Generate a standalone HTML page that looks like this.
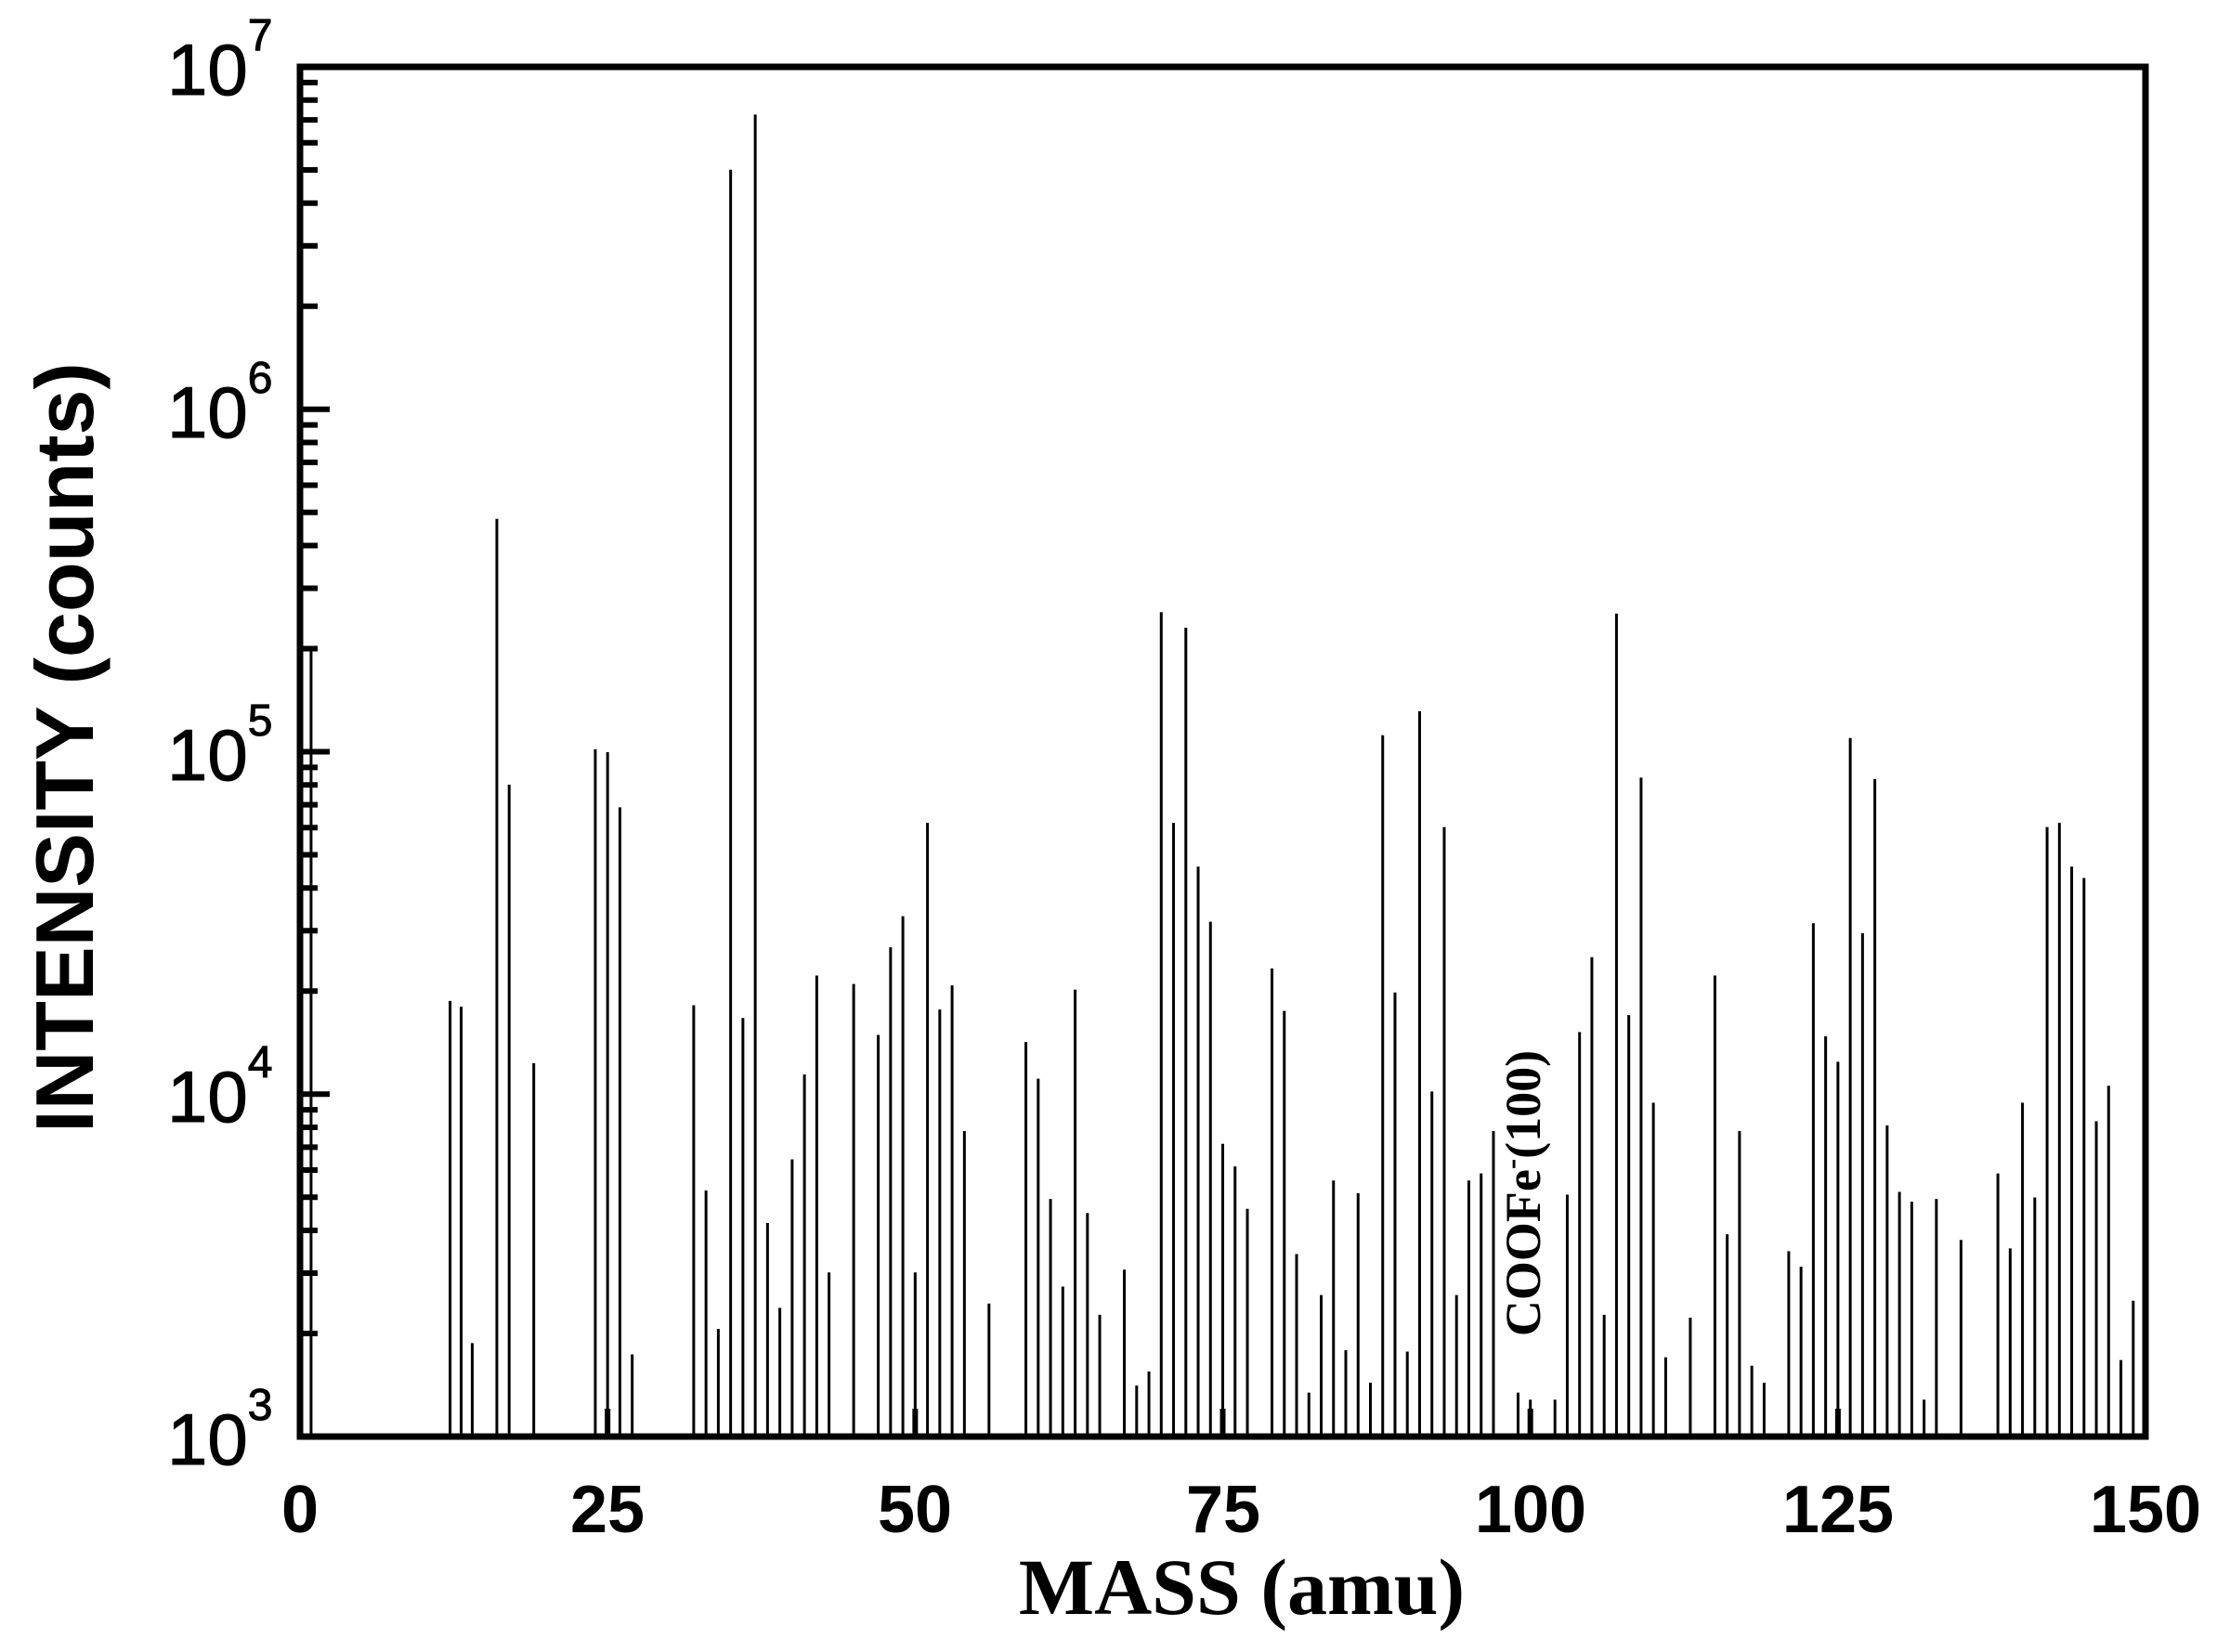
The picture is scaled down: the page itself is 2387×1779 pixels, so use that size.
<!DOCTYPE html>
<html><head><meta charset="utf-8"><style>
html,body{margin:0;padding:0;background:#fff;}
svg{display:block;}
</style></head><body>
<svg id="s" xmlns="http://www.w3.org/2000/svg" width="2387" height="1779" viewBox="0 0 2387 1779">
<rect width="2387" height="1779" fill="#fff"/>
<g id="peaks" stroke="#000" stroke-width="3"></g>
<rect x="323" y="72" width="1987" height="1475" fill="none" stroke="#000" stroke-width="7"/>
<g id="ticks" stroke="#000" stroke-width="6"></g>
<g font-family="Liberation Sans, Arial, sans-serif" font-size="78" fill="#000" stroke="#000" stroke-width="1">
<text x="180" y="102">10<tspan font-size="48" dy="-48">7</tspan></text>
<text x="180" y="471">10<tspan font-size="48" dy="-48">6</tspan></text>
<text x="180" y="840">10<tspan font-size="48" dy="-48">5</tspan></text>
<text x="180" y="1208">10<tspan font-size="48" dy="-48">4</tspan></text>
<text x="180" y="1577">10<tspan font-size="48" dy="-48">3</tspan></text>
</g>
<g font-family="Liberation Sans, Arial, sans-serif" font-size="72" font-weight="bold" fill="#000" text-anchor="middle">
<text x="323" y="1650">0</text>
<text x="654" y="1650">25</text>
<text x="985" y="1650">50</text>
<text x="1317" y="1650">75</text>
<text x="1648" y="1650">100</text>
<text x="1979" y="1650">125</text>
<text x="2310" y="1650">150</text>
</g>
<text x="1337" y="1738" text-anchor="middle" font-family="Liberation Serif, serif" font-weight="bold" font-size="86">MASS (amu)</text>
<text transform="translate(100,805) rotate(-90)" text-anchor="middle" font-family="Liberation Sans, Arial, sans-serif" font-weight="bold" font-size="88">INTENSITY (counts)</text>
<text transform="translate(1658,1285) rotate(-90)" text-anchor="middle" font-family="Liberation Serif, serif" font-weight="bold" font-size="54">COOFe<tspan dy="-20" font-size="34">-</tspan><tspan dy="20">(100)</tspan></text>
</svg>
<script>
var ns="http://www.w3.org/2000/svg";
var pk=[[0.9,460],[12.2,708],[13.1,712],[14,950],[16,367],[17,555],[19,752],[24,530],[25,532],[26,571],[27,958],[32,711],[33,842],[34,940],[35,120],[36,720],[37,81],[38,865],[39,925],[40,820],[41,760],[42,690],[43,900],[45,696],[47,732],[48,670],[49,648],[50,900],[51,582],[52,714],[53,697],[54,800],[56,922],[59,737],[60,763],[61,848],[62,910],[63,700],[64,858],[65,930],[67,898],[68,980],[69,970],[70,433],[71,582],[72,444],[73,613],[74,652],[75,809],[76,825],[77,855],[79,685],[80,715],[81,887],[82,985],[83,916],[84,835],[85,955],[86,844],[87,978],[88,520],[89,702],[90,956],[91,503],[92,772],[93,585],[94,916],[95,835],[96,830],[97,800],[99,985],[100,990],[102,990],[103,845],[104,730],[105,677],[106,930],[107,434],[108,718],[109,550],[110,780],[111,960],[113,932],[115,690],[116,873],[117,800],[118,966],[119,978],[121,885],[122,896],[123,653],[124,733],[125,751],[126,522],[127,660],[128,551],[129,796],[130,843],[131,850],[132,990],[133,848],[135,877],[138,830],[139,883],[140,780],[141,847],[142,585],[143,582],[144,613],[145,621],[146,793],[147,768],[148,962],[149,920]];
var g=document.getElementById("peaks");
pk.forEach(function(p){
 var x=323+p[0]*13.247, y=(p[1])*1.5225;
 var l=document.createElementNS(ns,"line");
 l.setAttribute("x1",x);l.setAttribute("x2",x);l.setAttribute("y1",1547);l.setAttribute("y2",y);
 g.appendChild(l);
});
var t=document.getElementById("ticks");
function ln(x1,y1,x2,y2){var l=document.createElementNS(ns,"line");l.setAttribute("x1",x1);l.setAttribute("y1",y1);l.setAttribute("x2",x2);l.setAttribute("y2",y2);t.appendChild(l);}
var dec=368.75;
for(var d=0;d<4;d++){
 var base=1547-d*dec;
 for(var k=2;k<=9;k++){var y=base-Math.log10(k)*dec;ln(323,y,342,y);}
 ln(323,base-dec,355,base-dec);
}
for(var m=0;m<=150;m+=25){var x=323+m*13.247;ln(x,1547,x,1517);}
</script>
</body></html>
